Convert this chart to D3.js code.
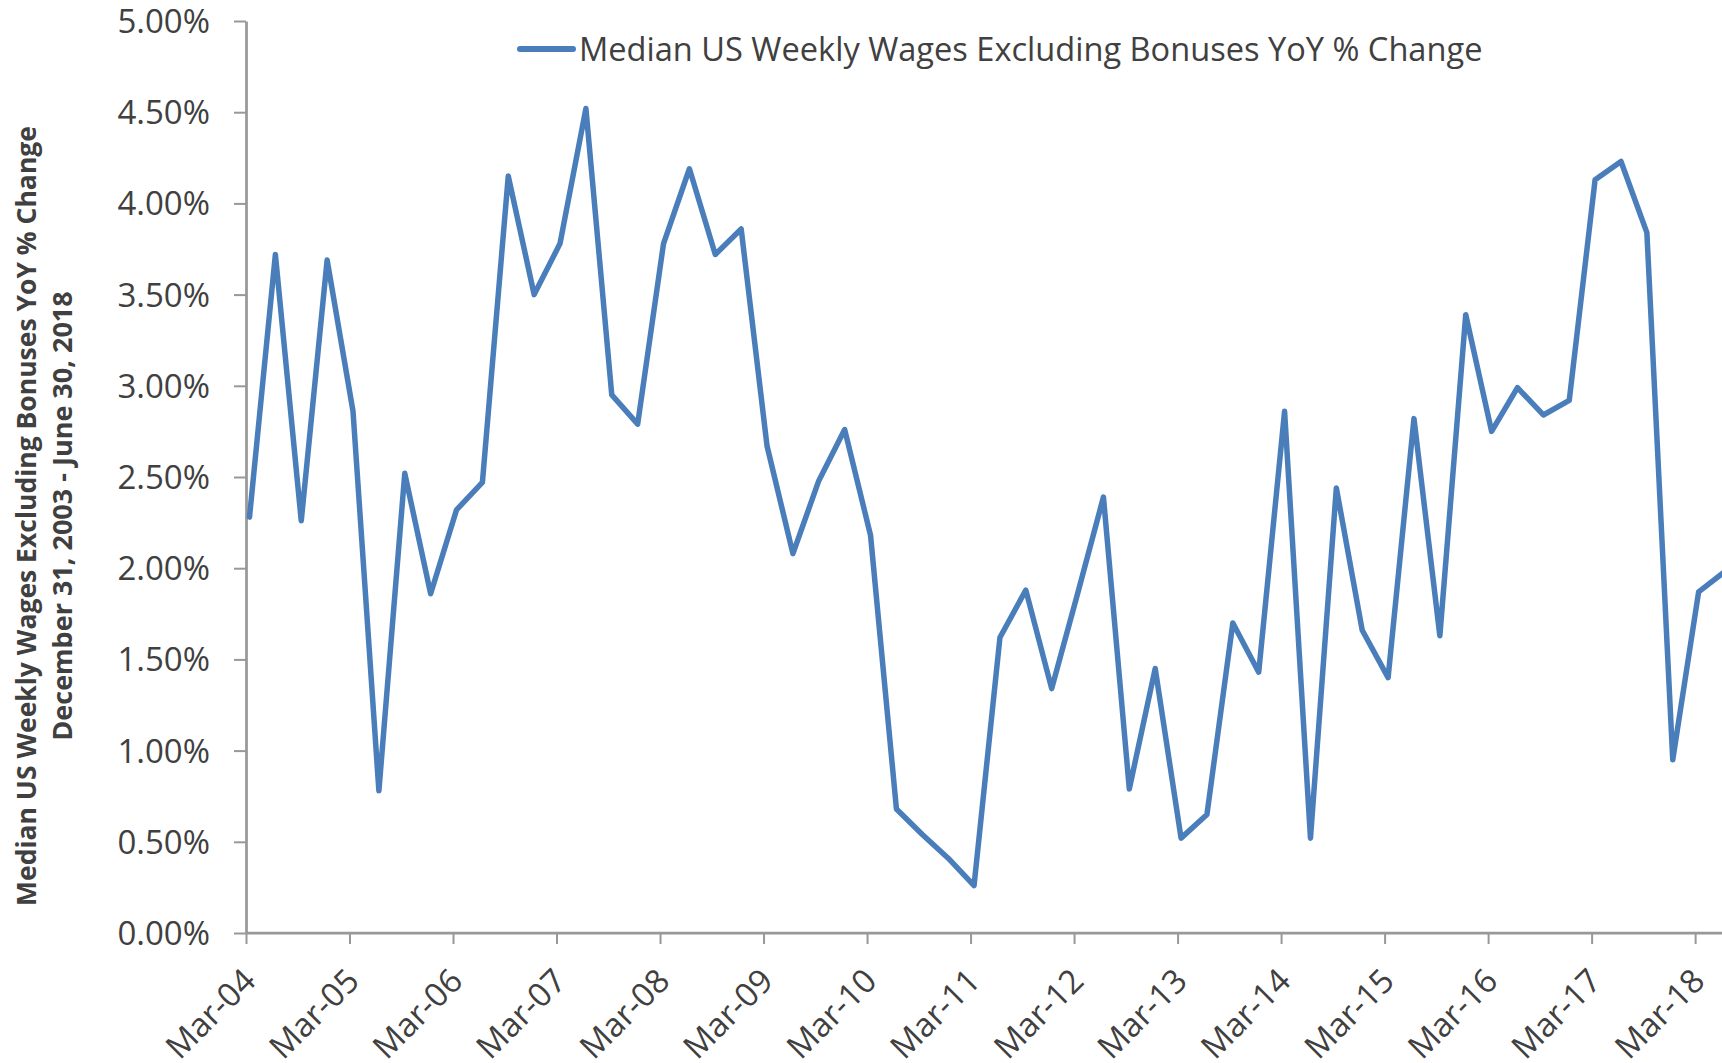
<!DOCTYPE html>
<html>
<head>
<meta charset="utf-8">
<script src="https://cdnjs.cloudflare.com/ajax/libs/d3/7.8.5/d3.min.js"></script>
<style>
    body { margin: 0; background: #fff; }
    svg { display: block; }
    text { font-family: "Open Sans", sans-serif; fill: #404040; }
</style>
</head>
<body>
<div id="vis"></div>
<script>
var quarters = [
    "Mar-04", "Jun-04", "Sep-04", "Dec-04",
    "Mar-05", "Jun-05", "Sep-05", "Dec-05",
    "Mar-06", "Jun-06", "Sep-06", "Dec-06",
    "Mar-07", "Jun-07", "Sep-07", "Dec-07",
    "Mar-08", "Jun-08", "Sep-08", "Dec-08",
    "Mar-09", "Jun-09", "Sep-09", "Dec-09",
    "Mar-10", "Jun-10", "Sep-10", "Dec-10",
    "Mar-11", "Jun-11", "Sep-11", "Dec-11",
    "Mar-12", "Jun-12", "Sep-12", "Dec-12",
    "Mar-13", "Jun-13", "Sep-13", "Dec-13",
    "Mar-14", "Jun-14", "Sep-14", "Dec-14",
    "Mar-15", "Jun-15", "Sep-15", "Dec-15",
    "Mar-16", "Jun-16", "Sep-16", "Dec-16",
    "Mar-17", "Jun-17", "Sep-17", "Dec-17",
    "Mar-18", "Jun-18"
];

// YoY % change
var wageGrowth = [
    2.28, 3.72, 2.26, 3.69,
    2.86, 0.78, 2.52, 1.86,
    2.32, 2.47, 4.15, 3.50,
    3.78, 4.52, 2.95, 2.79,
    3.78, 4.19, 3.72, 3.86,
    2.67, 2.08, 2.48, 2.76,
    2.18, 0.68, 0.54, 0.41,
    0.26, 1.62, 1.88, 1.34,
    1.86, 2.39, 0.79, 1.45,
    0.52, 0.65, 1.70, 1.43,
    2.86, 0.52, 2.44, 1.66,
    1.40, 2.82, 1.63, 3.39,
    2.75, 2.99, 2.84, 2.92,
    4.13, 4.23, 3.84, 0.95,
    1.87, 1.98
];

var yTicks = [0, 0.5, 1, 1.5, 2, 2.5, 3, 3.5, 4, 4.5, 5];

var xTickLabels = [
    "Mar-04", "Mar-05", "Mar-06", "Mar-07", "Mar-08",
    "Mar-09", "Mar-10", "Mar-11", "Mar-12", "Mar-13",
    "Mar-14", "Mar-15", "Mar-16", "Mar-17", "Mar-18"
];

var seriesName = "Median US Weekly Wages Excluding Bonuses YoY % Change";
var axisTitle = [
    "Median US Weekly Wages Excluding Bonuses YoY % Change",
    "December 31, 2003 - June 30, 2018"
];

// size of the page and plot area
var width = 1722;
var height = 1063;
var plot = { left: 246, right: 1721, top: 21, bottom: 933 };

// points sit at quarter end, a little right of the month tick
var pointOffset = 3.5;

var axisColor = "#989898";
var lineColor = "#4a7ebb";

var svg = d3.select("#vis").append("svg")
    .attr("width", width)
    .attr("height", height);

var x = d3.scalePoint()
    .domain(quarters)
    .range([plot.left, plot.right]);

var y = d3.scaleLinear()
    .domain([0, 5])
    .range([plot.bottom, plot.top]);

// y axis
var yAxis = svg.append("g")
    .attr("class", "y-axis")
    .attr("transform", "translate(" + plot.left + ",0)")
    .call(d3.axisLeft(y)
        .tickValues(yTicks)
        .tickSize(12)
        .tickSizeOuter(0)
        .tickFormat(function(d) { return d.toFixed(2) + "%"; }));

yAxis.select(".domain")
    .attr("stroke", axisColor)
    .attr("stroke-width", 2.75);
yAxis.selectAll(".tick line")
    .attr("stroke", axisColor)
    .attr("stroke-width", 2);
yAxis.selectAll(".tick text")
    .attr("x", -36)
    .attr("dy", "0.35em")
    .style("font-size", "33px")
    .style("font-family", "'Open Sans', sans-serif")
    .attr("fill", "#404040");

// x axis
var xAxis = svg.append("g")
    .attr("class", "x-axis")
    .attr("transform", "translate(0," + plot.bottom + ")")
    .call(d3.axisBottom(x)
        .tickValues(xTickLabels)
        .tickSize(11)
        .tickSizeOuter(0));

xAxis.select(".domain")
    .attr("stroke", axisColor)
    .attr("stroke-width", 2.75)
    .attr("d", "M" + plot.left + ",0H" + width);
xAxis.selectAll(".tick line")
    .attr("stroke", axisColor)
    .attr("stroke-width", 2);
xAxis.selectAll(".tick text")
    .attr("x", 0)
    .attr("y", 0)
    .attr("dy", 0)
    .attr("text-anchor", "end")
    .attr("transform", "translate(11,50) rotate(-45)")
    .style("font-size", "33px")
    .style("font-family", "'Open Sans', sans-serif")
    .attr("fill", "#404040");

// y axis title, two lines
svg.selectAll(".axis-title")
    .data(axisTitle)
    .enter().append("text")
    .attr("class", "axis-title")
    .attr("text-anchor", "middle")
    .attr("transform", function(d, i) {
        return "translate(" + (36 + i * 36) + ",516) rotate(-90)";
    })
    .style("font-size", function(d, i) { return i ? "27px" : "26.5px"; })
    .style("font-weight", "bold")
    .text(function(d) { return d; });

// the series
var line = d3.line()
    .x(function(d, i) { return x(quarters[i]) + pointOffset; })
    .y(function(d) { return y(d); });

svg.append("path")
    .datum(wageGrowth)
    .attr("fill", "none")
    .attr("stroke", lineColor)
    .attr("stroke-width", 5.5)
    .attr("stroke-linejoin", "round")
    .attr("stroke-linecap", "round")
    .attr("d", line);

// legend
var legend = svg.append("g").attr("class", "legend");

legend.append("line")
    .attr("x1", 520)
    .attr("x2", 573)
    .attr("y1", 49)
    .attr("y2", 49)
    .attr("stroke", lineColor)
    .attr("stroke-width", 6)
    .attr("stroke-linecap", "round");

legend.append("text")
    .attr("x", 579)
    .attr("y", 61)
    .style("font-size", "32.6px")
    .text(seriesName);
</script>
</body>
</html>
